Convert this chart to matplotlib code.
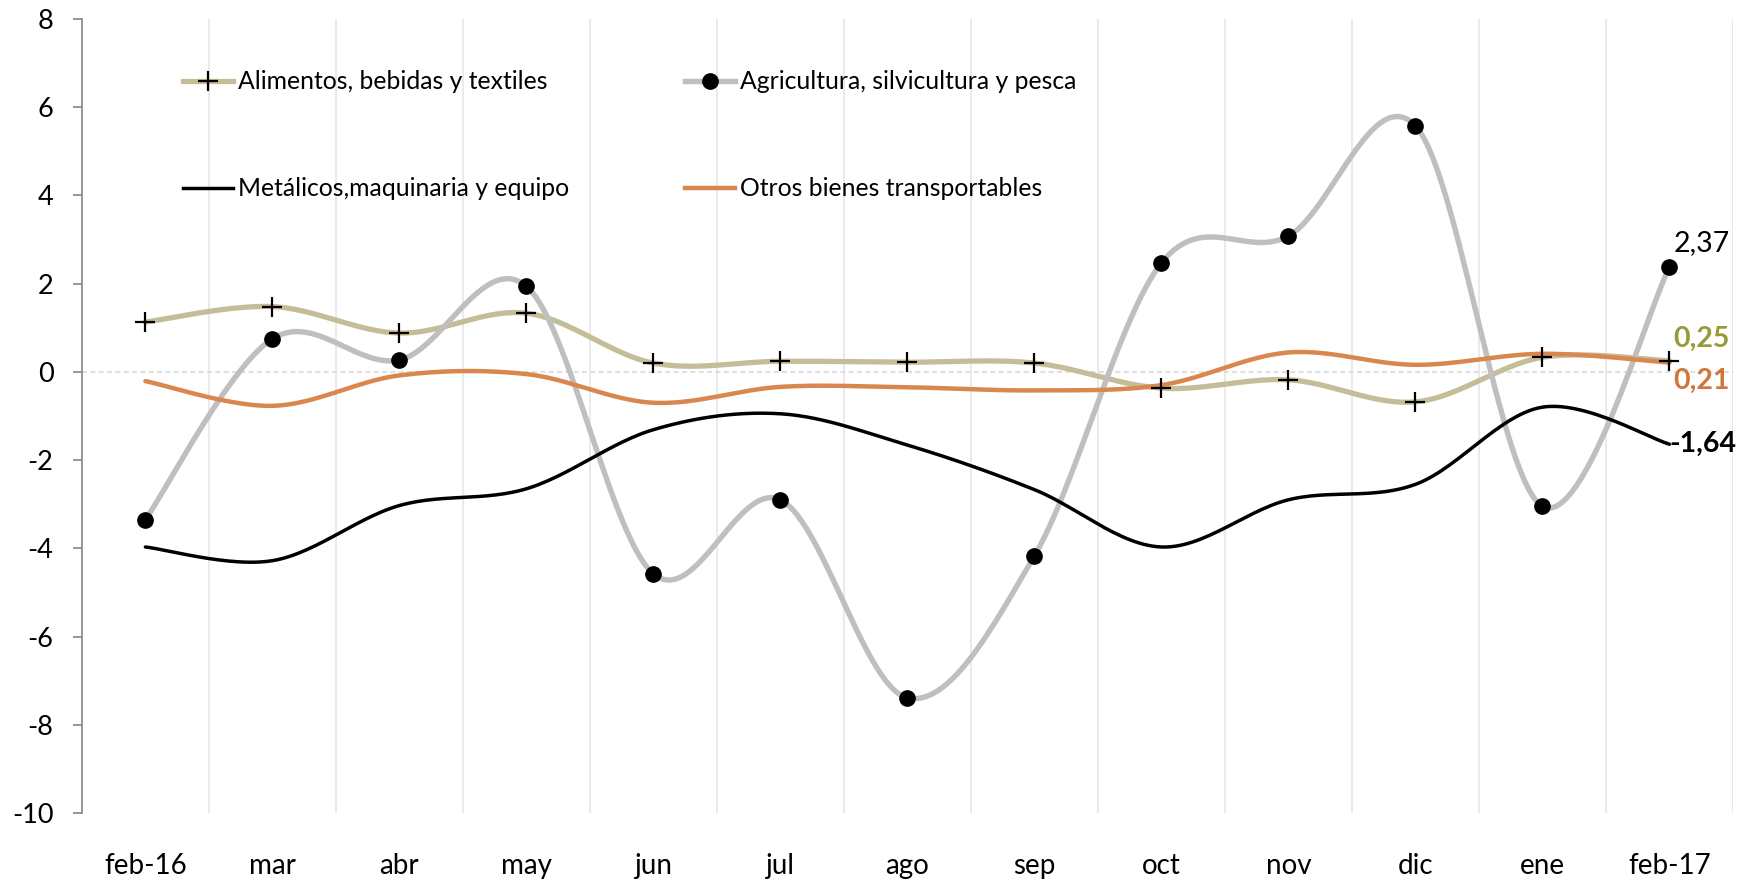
import matplotlib
matplotlib.use('Agg')
import matplotlib.pyplot as plt
import numpy as np

plt.rcParams['font.family'] = ['Lato', 'DejaVu Sans']
plt.rcParams['axes.unicode_minus'] = False

months = ['feb-16', 'mar', 'abr', 'may', 'jun', 'jul', 'ago', 'sep', 'oct', 'nov', 'dic', 'ene', 'feb-17']

alimentos = [1.13, 1.48, 0.88, 1.33, 0.20, 0.24, 0.22, 0.20, -0.37, -0.18, -0.68, 0.33, 0.25]
agricultura = [-3.35, 0.75, 0.27, 1.94, -4.58, -2.90, -7.39, -4.17, 2.47, 3.08, 5.58, -3.05, 2.37]
metalicos = [-3.97, -4.28, -3.03, -2.65, -1.31, -0.95, -1.66, -2.67, -3.97, -2.90, -2.55, -0.80, -1.64]
otros = [-0.21, -0.77, -0.08, -0.05, -0.70, -0.34, -0.35, -0.42, -0.30, 0.44, 0.16, 0.41, 0.21]

TAN = '#C4BD97'
GRAY = '#BFBFBF'
ORANGE = '#D9874F'


# excel-like smoothed line (cardinal / catmull-rom bezier through the points)
def smooth(x, y, n=30):
    x = np.asarray(x, float)
    y = np.asarray(y, float)
    px = np.concatenate([[x[0]], x, [x[-1]]])
    py = np.concatenate([[y[0]], y, [y[-1]]])
    xs, ys = [], []
    t = np.linspace(0, 1, n)
    for i in range(1, len(px) - 2):
        p0 = np.array([px[i], py[i]])
        p3 = np.array([px[i + 1], py[i + 1]])
        c1 = p0 + (np.array([px[i + 1], py[i + 1]]) - np.array([px[i - 1], py[i - 1]])) / 6
        c2 = p3 - (np.array([px[i + 2], py[i + 2]]) - np.array([px[i], py[i]])) / 6
        b = ((1 - t) ** 3)[:, None] * p0 + (3 * (1 - t) ** 2 * t)[:, None] * c1 \
            + (3 * (1 - t) * t ** 2)[:, None] * c2 + (t ** 3)[:, None] * p3
        xs.extend(b[:, 0])
        ys.extend(b[:, 1])
    return np.array(xs), np.array(ys)


fig = plt.figure(figsize=(17.54, 8.83), dpi=100)
ax = fig.add_subplot()
fig.subplots_adjust(left=0.0467, right=0.988, top=0.9785, bottom=0.0793)

x = np.arange(len(months))

# vertical grid between categories
for b in np.arange(0.5, len(months) + 0.5, 1):
    ax.axvline(b, color='#E6E6E6', lw=1.2, zorder=0)
ax.axhline(0, color='#D9D9D9', lw=1.2, ls=(0, (3, 2)), zorder=0)

sx, sy = smooth(x, alimentos)
ax.plot(sx, sy, color=TAN, lw=3.8, solid_capstyle='round', zorder=2)
ax.plot(x, alimentos, ls='none', marker='+', ms=14, mew=1.6, color='black', zorder=5)

sx, sy = smooth(x, agricultura)
ax.plot(sx, sy, color=GRAY, lw=3.9, solid_capstyle='round', zorder=3)
ax.plot(x, agricultura, ls='none', marker='o', ms=11, color='black', zorder=5)

sx, sy = smooth(x, metalicos)
ax.plot(sx, sy, color='black', lw=2.5, solid_capstyle='round', zorder=4)

sx, sy = smooth(x, otros)
ax.plot(sx, sy, color=ORANGE, lw=3.2, solid_capstyle='round', zorder=4)

# legend handles
h1, = ax.plot([], [], color=TAN, lw=3.8, marker='+', ms=14, mec='black', mew=1.6)
h2, = ax.plot([], [], color=GRAY, lw=3.9, marker='o', ms=11, mfc='black', mec='black')
h3, = ax.plot([], [], color='black', lw=2.5)
h4, = ax.plot([], [], color=ORANGE, lw=3.2)
ax.legend([h1, h3, h2, h4],
          ['Alimentos, bebidas y textiles', 'Metálicos,maquinaria y equipo',
           'Agricultura, silvicultura y pesca', 'Otros bienes transportables'],
          ncol=2, loc='upper left', bbox_to_anchor=(0.0555, 0.948), frameon=False,
          fontsize=17.8, handlelength=2.0, handletextpad=0.2, labelspacing=3.4,
          columnspacing=4.7, borderaxespad=0)

# data labels on last point
ax.text(x[-1] + 0.03, agricultura[-1] + 0.25, '2,37', fontsize=20.5, color='black',
        ha='left', va='bottom')
ax.text(x[-1] + 0.03, alimentos[-1] + 0.2, '0,25', fontsize=20.5, color='#989A36',
        fontweight='bold', ha='left', va='bottom')
ax.text(x[-1] + 0.03, otros[-1] - 0.12, '0,21', fontsize=20.5, color='#D0763A',
        fontweight='bold', ha='left', va='top')
ax.text(x[-1] + 0.0, metalicos[-1], '-1,64', fontsize=20.5, color='black',
        fontweight='bold', ha='left', va='center')

ax.set_xlim(-0.5, len(months) - 0.5)
ax.set_ylim(-10, 8)
ax.set_yticks(range(-10, 9, 2))
ax.set_xticks(x)
ax.set_xticklabels(months)

for s in ['top', 'right', 'bottom']:
    ax.spines[s].set_visible(False)
ax.spines['left'].set_color('#868686')
ax.spines['left'].set_linewidth(1.2)
ax.tick_params(axis='y', length=6.5, width=1.2, color='#868686', pad=14, labelsize=19.5)
ax.tick_params(axis='x', length=0, pad=29, labelsize=20)

fig.savefig('out.png', dpi=100)
